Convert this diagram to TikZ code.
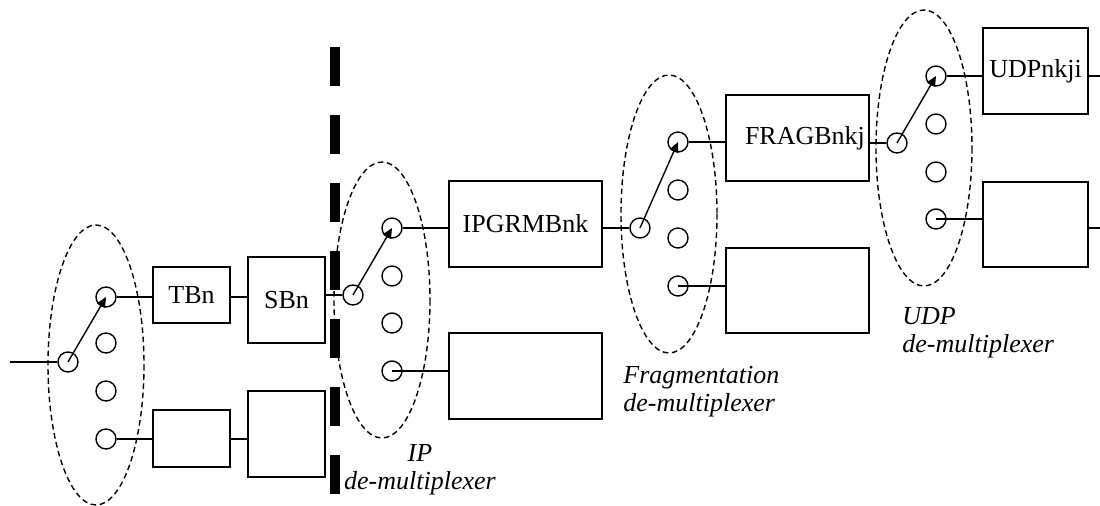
\documentclass[tikz,border=0pt]{standalone}
\usepackage{fontspec}
\setmainfont{Liberation Serif}
\usetikzlibrary{arrows.meta}
\begin{document}
\begin{tikzpicture}[x=0.5pt,y=-0.5pt,
  font=\fontsize{13}{14}\selectfont,
  thin line/.style={line width=0.7pt},
  port/.style={draw,circle,thin line,minimum size=10pt,inner sep=0pt},
  box/.style={draw,rectangle,thin line,inner sep=0pt},
  smallbox/.style={box,minimum width=38.5pt,minimum height=28pt},
  tallbox/.style={box,minimum width=38.5pt,minimum height=43pt},
  group/.style={draw,thin line,dash pattern=on 2.8pt off 1.8pt},
  switcharrow/.style={thin line,-{Triangle[length=5pt,width=4.5pt]}},
  wire/.style={thin line},
  grouplabel/.style={font=\fontsize{13}{14}\selectfont\itshape,inner sep=0pt},
  barrier/.style={line width=5pt,dash pattern=on 19.5pt off 14.5pt}
]
\useasboundingbox (0,0) rectangle (1100,506);

% thick dashed barrier
\coordinate (bartop) at (335,47);
\coordinate (barbot) at (335,494);
\draw[barrier] (bartop) -- (barbot);

% ---------- first group ----------
\draw[group] (96,365) ellipse [x radius=48, y radius=140];
\coordinate (inend) at (10,362);
\node[port] (a0) at (68,362) {};
\node[port] (a1) at (106,297) {};
\node[port] (a2) at (106,343) {};
\node[port] (a3) at (106,391) {};
\node[port] (a4) at (106,439) {};
\draw[wire] (inend) -- (a0.west);
\draw[switcharrow] (a0.center) -- (a1.center);

\node[smallbox] (tb) at (191.5,295) {TBn};
\node[tallbox] (sb) at (286.5,300) {SBn};
\node[box,minimum width=38.5pt,minimum height=28.5pt] (tb2) at (191.5,438.5) {};
\node[tallbox] (sb2) at (286.5,434) {};
\draw[wire] (a1.east) -- (a1.east -| tb.west);
\draw[wire] (tb.east |- a1.east) -- (a1.east -| sb.west);
\draw[wire] (a4.east) -- (a4.east -| tb2.west);
\draw[wire] (tb2.east |- a4.east) -- (a4.east -| sb2.west);

% ---------- IP group ----------
\draw[group] (382,300) ellipse [x radius=48, y radius=138];
\node[port] (b0) at (353,295) {};
\node[port] (b1) at (392,228) {};
\node[port] (b2) at (392,276) {};
\node[port] (b3) at (392,323) {};
\node[port] (b4) at (392,371) {};
\draw[wire] (b0.west -| sb.east) -- (b0.west);
\draw[switcharrow] (b0.center) -- (b1.center);
\node[box,minimum width=76.5pt,minimum height=43pt] (ip) at (525.5,224) {IPGRMBnk};
\node[box,minimum width=76.5pt,minimum height=43pt] (ip2) at (525.5,376) {};
\draw[wire] (b1.east) -- (b1.east -| ip.west);
\draw[wire] (b4.center) -- (b4.center -| ip2.west);
\node[grouplabel,align=center,anchor=base] (iplabel) at (420,490) {IP\\de-multiplexer};

% ---------- Fragmentation group ----------
\draw[group] (669,214) ellipse [x radius=48, y radius=139];
\node[port] (c0) at (640,228) {};
\node[port] (c1) at (678,142) {};
\node[port] (c2) at (678,190) {};
\node[port] (c3) at (678,238) {};
\node[port] (c4) at (678,286) {};
\draw[wire] (c0.west -| ip.east) -- (c0.west);
\draw[switcharrow] (c0.center) -- (c1.center);
\node[box,minimum width=71.5pt,minimum height=43pt] (fr) at (797.5,138) {\hspace*{7.5pt}FRAGBnkj};
\node[box,minimum width=71.5pt,minimum height=42.5pt] (fr2) at (797.5,290.5) {};
\draw[wire] (c1.east) -- (c1.east -| fr.west);
\draw[wire] (c4.center) -- (c4.center -| fr2.west);
\node[grouplabel,align=left,anchor=base west] (frlabel) at (623,412) {Fragmentation\\de-multiplexer};

% ---------- UDP group ----------
\draw[group] (924,148) ellipse [x radius=48, y radius=138];
\node[port] (d0) at (897,143) {};
\node[port] (d1) at (936,76) {};
\node[port] (d2) at (936,124) {};
\node[port] (d3) at (936,172) {};
\node[port] (d4) at (936,219) {};
\draw[wire] (d0.west -| fr.east) -- (d0.west);
\draw[switcharrow] (d0.center) -- (d1.center);
\node[box,minimum width=52.5pt,minimum height=43pt] (ud) at (1035.5,71) {UDPnkji};
\node[box,minimum width=52.5pt,minimum height=42.5pt] (ud2) at (1035.5,224.5) {};
\draw[wire] (d1.east) -- (d1.east -| ud.west);
\draw[wire] (d4.center) -- (d4.center -| ud2.west);
\coordinate (out1) at (1100,76);
\coordinate (out2) at (1100,228);
\draw[wire] (out1 -| ud.east) -- (out1);
\draw[wire] (out2 -| ud2.east) -- (out2);
\node[grouplabel,align=left,anchor=base west] (udlabel) at (902,353) {UDP\\de-multiplexer};
\end{tikzpicture}
\end{document}
